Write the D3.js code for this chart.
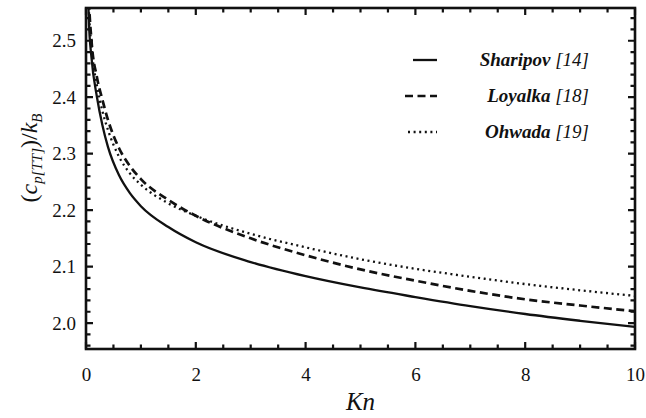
<!DOCTYPE html>
<html>
<head>
<meta charset="utf-8">
<script src="https://cdn.jsdelivr.net/npm/d3@7"></script>
<style>
  body { margin: 0; background: #fff; }
  svg { display: block; }
  text { font-family: "Liberation Serif", "DejaVu Serif", serif; fill: #111; }
</style>
</head>
<body>
<svg id="chart" width="646" height="418"></svg>
<script>
'use strict';

// Datos
var knSharipov = [0.02, 0.05, 0.1, 0.2, 0.3, 0.4, 0.6, 0.8, 1.0, 1.5, 2, 3, 4, 5, 6, 7, 8, 9, 10];
var cpSharipov = [2.65, 2.54, 2.47, 2.40, 2.35, 2.312, 2.262, 2.23, 2.207, 2.170, 2.143, 2.108, 2.083, 2.063, 2.046, 2.030, 2.016, 2.004, 1.993];

var knLoyalka  = [0.02, 0.05, 0.1, 0.2, 0.3, 0.4, 0.6, 0.8, 1.0, 1.5, 2, 3, 4, 5, 6, 7, 8, 9, 10];
var cpLoyalka  = [2.68, 2.58, 2.50, 2.435, 2.395, 2.36, 2.31, 2.278, 2.255, 2.218, 2.19, 2.150, 2.120, 2.095, 2.075, 2.057, 2.042, 2.031, 2.021];

var knOhwada   = [0.02, 0.05, 0.1, 0.2, 0.3, 0.4, 0.6, 0.8, 1.0, 1.5, 2, 3, 4, 5, 6, 7, 8, 9, 10];
var cpOhwada   = [2.66, 2.56, 2.49, 2.42, 2.375, 2.342, 2.295, 2.265, 2.245, 2.212, 2.19, 2.158, 2.134, 2.113, 2.096, 2.082, 2.069, 2.058, 2.048];

var series = [
  { nombre: 'Sharipov', ref: '[14]', kn: knSharipov, cp: cpSharipov, dash: null,    ancho: 2.3 },
  { nombre: 'Loyalka',  ref: '[18]', kn: knLoyalka,  cp: cpLoyalka,  dash: '8,4.5', ancho: 2.7 },
  { nombre: 'Ohwada',   ref: '[19]', kn: knOhwada,   cp: cpOhwada,   dash: '2,3.6', ancho: 2.3 }
];

var xMayores = [0, 2, 4, 6, 8, 10];
var yMayores = [2.0, 2.1, 2.2, 2.3, 2.4, 2.5];
var xMenores = [0.5, 1, 1.5, 2.5, 3, 3.5, 4.5, 5, 5.5, 6.5, 7, 7.5, 8.5, 9, 9.5];
var yMenores = [1.96, 1.98, 2.02, 2.04, 2.06, 2.08, 2.12, 2.14, 2.16, 2.18, 2.22, 2.24, 2.26, 2.28,
                2.32, 2.34, 2.36, 2.38, 2.42, 2.44, 2.46, 2.48, 2.52, 2.54];

var svg = d3.select('#chart');
var izq = 86, der = 635, arriba = 8, abajo = 349;

var x = d3.scaleLinear().domain([0, 10]).range([izq, der]);
var y = d3.scaleLinear().domain([1.954, 2.558]).range([abajo, arriba]);

svg.append('defs').append('clipPath').attr('id', 'recorte')
  .append('rect').attr('x', izq).attr('y', arriba).attr('width', der - izq).attr('height', abajo - arriba);

// Etiquetas con los ejes de d3 (sin dominio)
var gX = svg.append('g').attr('transform', 'translate(0,' + abajo + ')')
  .call(d3.axisBottom(x).tickValues(xMayores).tickSize(0).tickPadding(19).tickFormat(d3.format('d')));
var gY = svg.append('g').attr('transform', 'translate(' + izq + ',0)')
  .call(d3.axisLeft(y).tickValues(yMayores).tickSize(0).tickPadding(10).tickFormat(d3.format('.1f')));
[gX, gY].forEach(function(g) {
  g.select('.domain').remove();
  g.selectAll('.tick line').remove();
  g.selectAll('.tick text').attr('font-size', 19).attr('fill', '#111')
    .style('font-family', '"Liberation Serif", serif');
});

// Marco
svg.append('rect')
  .attr('x', izq).attr('y', arriba).attr('width', der - izq).attr('height', abajo - arriba)
  .attr('fill', 'none').attr('stroke', '#111').attr('stroke-width', 2.6);

// Marcas hacia dentro en los cuatro lados, en un solo trazo
var trazo = d3.path();
function marcasX(valores, largo) {
  valores.forEach(function(v) {
    trazo.moveTo(x(v), abajo); trazo.lineTo(x(v), abajo - largo);
    trazo.moveTo(x(v), arriba); trazo.lineTo(x(v), arriba + largo);
  });
}
function marcasY(valores, largo) {
  valores.forEach(function(v) {
    trazo.moveTo(izq, y(v)); trazo.lineTo(izq + largo, y(v));
    trazo.moveTo(der, y(v)); trazo.lineTo(der - largo, y(v));
  });
}
marcasX(xMayores, 7);
marcasX(xMenores, 4.5);
marcasY(yMayores, 7);
marcasY(yMenores, 4.5);
svg.append('path')
  .attr('d', trazo.toString())
  .style('stroke', '#111')
  .style('stroke-width', '2.2px')
  .style('fill', 'none');

// Curvas
var linea = d3.line()
  .x(function(d) { return x(d[0]); })
  .y(function(d) { return y(d[1]); })
  .curve(d3.curveMonotoneX);

series.forEach(function(s) {
  var puntos = s.kn.map(function(k, i) { return [k, s.cp[i]]; });
  svg.append('path')
    .attr('clip-path', 'url(#recorte)')
    .attr('d', linea(puntos))
    .attr('fill', 'none')
    .attr('stroke', '#111')
    .attr('stroke-width', s.ancho)
    .attr('stroke-dasharray', s.dash);
});

// Leyenda
var leyenda = svg.append('g');
series.forEach(function(s, i) {
  var yy = 60 + i * 36;
  leyenda.append('line')
    .attr('x1', i === 0 ? 413 : (i === 1 ? 405 : 408)).attr('x2', 437)
    .attr('y1', yy).attr('y2', yy)
    .attr('stroke', '#111').attr('stroke-width', s.ancho)
    .attr('stroke-dasharray', s.dash);
  var t = leyenda.append('text')
    .attr('x', 589).attr('y', yy + 6)
    .attr('text-anchor', 'end')
    .attr('font-size', 19).attr('font-style', 'italic');
  t.append('tspan').attr('font-weight', 'bold').text(s.nombre + ' ');
  t.append('tspan').text(s.ref);
});

// Títulos de los ejes
svg.append('text')
  .attr('x', (izq + der) / 2).attr('y', 410)
  .attr('text-anchor', 'middle')
  .attr('font-size', 25).attr('font-style', 'italic')
  .text('Kn');

var tituloY = svg.append('text')
  .attr('transform', 'translate(37,158) rotate(-90)')
  .attr('text-anchor', 'middle')
  .attr('font-size', 24).attr('font-style', 'italic');
tituloY.append('tspan').attr('font-style', 'normal').text('(');
tituloY.append('tspan').text('c');
tituloY.append('tspan').attr('font-size', 15).attr('dy', 5).text('p[TT]');
tituloY.append('tspan').attr('font-style', 'normal').attr('dy', -5).text(')/');
tituloY.append('tspan').text('k');
tituloY.append('tspan').attr('font-size', 15).attr('dy', 5).text('B');
</script>
</body>
</html>
